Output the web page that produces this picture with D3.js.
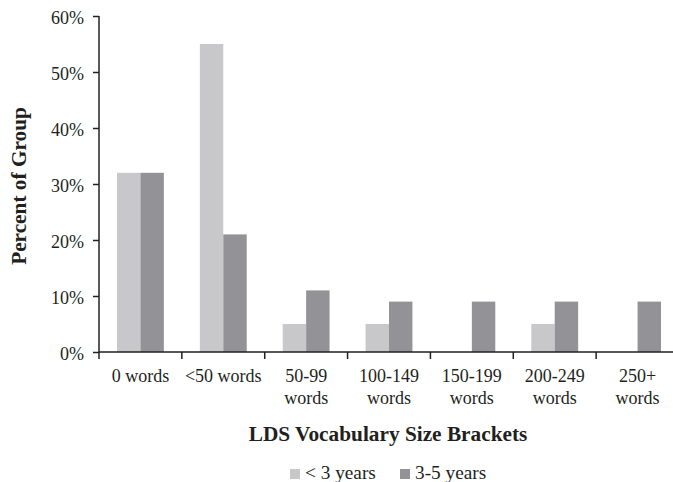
<!DOCTYPE html>
<html><head><meta charset="utf-8">
<script src="https://cdn.jsdelivr.net/npm/d3@7"></script>
<style>body{margin:0;background:#fff}svg{display:block}text{font-family:"Liberation Serif","Times New Roman",serif;fill:#231f20}</style>
</head><body><svg id="c" width="673" height="482"></svg>
<script>
const categories = [["0 words"],["<50 words"],["50-99","words"],["100-149","words"],["150-199","words"],["200-249","words"],["250+","words"]];
const seriesNames = ["< 3 years","3-5 years"];
const under3 = [32,55,5,5,0,5,0];
const age35 = [32,21,11,9,9,9,9];
const yTicks = [0,10,20,30,40,50,60];
const colors = ["#c8c8ca","#939397"];

const svg = d3.select("#c");
const x0 = 99, x1 = 679, yTop = 16, yBot = 352;
const x = d3.scaleBand().domain(d3.range(categories.length)).range([x0,x1]).paddingInner(0).paddingOuter(0);
const y = d3.scaleLinear().domain([0,60]).range([yBot,yTop]);
const sub = d3.scaleBand().domain([0,1]).range([18, x.bandwidth()-18]);

const series = [under3, age35];
series.forEach((vals, si) => {
  svg.append("g").selectAll("rect").data(vals).enter().append("rect")
    .attr("x", (d,i) => x(i) + sub(si))
    .attr("width", sub.bandwidth())
    .attr("y", d => y(d))
    .attr("height", d => yBot - y(d))
    .attr("fill", colors[si]);
});

// y axis
const ya = svg.append("g").attr("transform", `translate(${x0},0)`)
  .call(d3.axisLeft(y).tickValues(yTicks).tickFormat(d => d + "%").tickSize(6).tickPadding(9));
ya.select(".domain").attr("stroke","#231f20").attr("stroke-width",1.5).attr("d",`M0,${yTop}V${yBot}`);
ya.selectAll(".tick line").attr("stroke","#231f20").attr("stroke-width",1.5);
ya.selectAll(".tick text").attr("font-size",18).attr("fill","#231f20").attr("font-family","Liberation Serif").attr("dy","0.42em");

// x axis
svg.append("line").attr("x1",x0).attr("x2",673).attr("y1",yBot).attr("y2",yBot).attr("stroke","#231f20").attr("stroke-width",1.5);
svg.append("g").selectAll("line").data(d3.range(categories.length+1)).enter().append("line")
  .attr("x1", i => x0 + i*x.bandwidth()).attr("x2", i => x0 + i*x.bandwidth())
  .attr("y1", yBot).attr("y2", yBot+7).attr("stroke","#231f20").attr("stroke-width",1.5);

const lab = svg.append("g").selectAll("text").data(categories).enter().append("text")
  .attr("x",(d,i)=> x(i)+x.bandwidth()/2).attr("y",382).attr("text-anchor","middle").attr("font-size",18);
lab.selectAll("tspan").data(d=>d).enter().append("tspan")
  .attr("x", function(){ return this.parentNode.getAttribute("x"); })
  .attr("dy",(d,i)=> i===0?0:22).text(d=>d);

// titles
svg.append("text").attr("x",388).attr("y",441).attr("text-anchor","middle")
  .attr("font-size",21.3).attr("font-weight","bold").text("LDS Vocabulary Size Brackets");
svg.append("text").attr("transform","translate(26,186) rotate(-90)").attr("text-anchor","middle")
  .attr("font-size",21.3).attr("font-weight","bold").text("Percent of Group");

// legend
const legX = [290, 400];
seriesNames.forEach((n,i)=>{
  svg.append("rect").attr("x",legX[i]).attr("y",469).attr("width",10).attr("height",10).attr("fill",colors[i]);
  svg.append("text").attr("x",legX[i]+15).attr("y",479).attr("font-size",19.3).text(n);
});
</script></body></html>
